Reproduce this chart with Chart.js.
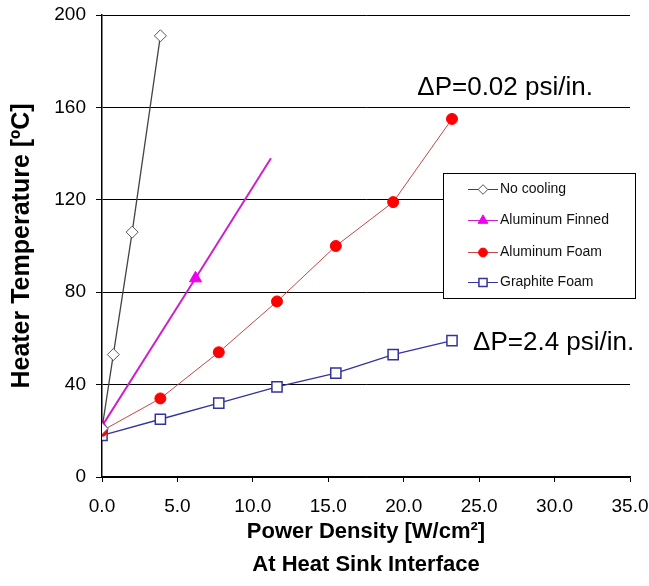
<!DOCTYPE html>
<html>
<head>
<meta charset="utf-8">
<script src="https://cdn.jsdelivr.net/npm/chart.js@4/dist/chart.umd.min.js"></script>
<style>
  body { margin: 0; background: #fff; }
  canvas { display: block; }
</style>
</head>
<body>
<canvas id="myChart" width="649" height="586"></canvas>
<script>
"use strict";

const chartCanvas = document.querySelector("#myChart");
const FONT = "'Liberation Sans', Arial, sans-serif";

// Datos
const seriesNames = ["No cooling", "Aluminum Finned", "Aluminum Foam", "Graphite Foam"];
const noCoolingX = [0, 0.75, 2.0, 3.87];
const noCoolingY = [21, 53, 106, 191];
const finnedX = [0, 6.2, 11.2];
const finnedY = [22, 86, 138];
const foamX = [0, 3.87, 7.74, 11.6, 15.5, 19.3, 23.2];
const foamY = [20, 34, 54, 76, 100, 119, 155];
const graphiteX = [0, 3.87, 7.74, 11.6, 15.5, 19.3, 23.2];
const graphiteY = [18, 25, 32, 39, 45, 53, 59];
const xTicks = [0, 5, 10, 15, 20, 25, 30, 35];
const yTicks = [0, 40, 80, 120, 160, 200];
const notes = [
  { text: "\u0394P=0.02 psi/in.", x: 20.9, y: 165.5 },
  { text: "\u0394P=2.4 psi/in.", x: 24.6, y: 55 },
];

const toPoints = (xs, ys) => xs.map((x, i) => ({ x: x, y: ys[i] }));

const data = {
  datasets: [
    {
      label: seriesNames[0],
      data: toPoints(noCoolingX, noCoolingY),
      borderColor: "#444444",
      borderWidth: 1.3,
      pointStyle: "rectRot",
      pointRadius: 6,
      pointBackgroundColor: "#ffffff",
      pointBorderColor: "#555555",
      pointBorderWidth: 1,
    },
    {
      label: seriesNames[1],
      data: toPoints(finnedX, finnedY),
      borderColor: "#cc22cc",
      borderWidth: 2,
      pointStyle: "triangle",
      pointRadius: [7, 7, 0],
      pointBackgroundColor: "#ee00ee",
      pointBorderColor: "#ee00ee",
      pointBorderWidth: 1,
    },
    {
      label: seriesNames[2],
      data: toPoints(foamX, foamY),
      borderColor: "#c04848",
      borderWidth: 1,
      pointStyle: "circle",
      pointRadius: 5.5,
      pointBackgroundColor: "#ff0000",
      pointBorderColor: "#ff0000",
      pointBorderWidth: 1,
    },
    {
      label: seriesNames[3],
      data: toPoints(graphiteX, graphiteY),
      borderColor: "#333399",
      borderWidth: 1.3,
      pointStyle: "rect",
      pointRadius: 7.2,
      pointBackgroundColor: "#ffffff",
      pointBorderColor: "#333399",
      pointBorderWidth: 1.5,
    },
  ],
};

// Leyenda y anotaciones dibujadas a mano
const extrasPlugin = {
  id: "extras",
  afterDraw(chart) {
    const ctx = chart.ctx;
    const xs = chart.scales.x;
    const ys = chart.scales.y;

    ctx.save();
    ctx.fillStyle = "#000";
    ctx.font = "26px " + FONT;
    ctx.textAlign = "left";
    ctx.textBaseline = "alphabetic";
    notes.forEach((n) => {
      ctx.fillText(n.text, xs.getPixelForValue(n.x), ys.getPixelForValue(n.y));
    });

    // caja de leyenda
    const bx = 443, by = 173, bw = 192, bh = 125;
    ctx.fillStyle = "#fff";
    ctx.fillRect(bx, by, bw, bh);
    ctx.strokeStyle = "#000";
    ctx.lineWidth = 1;
    ctx.strokeRect(bx + 0.5, by + 0.5, bw, bh);

    ctx.font = "14px " + FONT;
    ctx.textBaseline = "middle";
    const rows = [189, 220, 252, 282];
    chart.data.datasets.forEach((ds, i) => {
      const y = rows[i];
      ctx.strokeStyle = ds.borderColor;
      ctx.lineWidth = 1;
      ctx.beginPath();
      ctx.moveTo(468, y + 0.5);
      ctx.lineTo(498, y + 0.5);
      ctx.stroke();
      const r = Array.isArray(ds.pointRadius) ? ds.pointRadius[0] : ds.pointRadius;
      ctx.fillStyle = ds.pointBackgroundColor;
      ctx.strokeStyle = ds.pointBorderColor;
      ctx.lineWidth = ds.pointBorderWidth;
      Chart.helpers.drawPoint(ctx, { pointStyle: ds.pointStyle, radius: r * 0.8, rotation: 0, borderWidth: ds.pointBorderWidth }, 483, y + 0.5);
      ctx.fillStyle = "#111";
      ctx.fillText(ds.label, 500, y);
    });
    ctx.restore();
  },
};

const config = {
  type: "line",
  data,
  options: {
    responsive: false,
    animation: false,
    layout: { padding: { left: 0, top: 15, right: 19, bottom: 0 } },
    plugins: {
      legend: { display: false },
      tooltip: { enabled: false },
    },
    scales: {
      x: {
        type: "linear",
        min: 0,
        max: 35,
        afterFit: (scale) => {
          scale.height = 109;
          scale.paddingLeft = 0;
          scale.paddingRight = 0;
        },
        afterBuildTicks: (scale) => { scale.ticks = xTicks.map((v) => ({ value: v })); },
        ticks: {
          color: "#000",
          font: { family: FONT, size: 19 },
          padding: 13,
          maxRotation: 0,
          callback: (v) => v.toFixed(1),
        },
        grid: { drawOnChartArea: false, drawTicks: true, tickLength: 5, color: "#000" },
        border: { color: "#000", width: 1.5 },
        title: {
          display: true,
          text: ["Power Density [W/cm\u00b2]", "At Heat Sink Interface"],
          color: "#000",
          font: { family: FONT, size: 22, weight: "bold", lineHeight: 1.5 },
          padding: { top: 0, bottom: 5 },
        },
      },
      y: {
        min: 0,
        max: 200,
        afterFit: (scale) => {
          scale.width = 102;
          scale.paddingTop = 0;
          scale.paddingBottom = 0;
        },
        afterBuildTicks: (scale) => { scale.ticks = yTicks.map((v) => ({ value: v })); },
        ticks: {
          color: "#000",
          font: { family: FONT, size: 19 },
          padding: 10,
        },
        grid: { color: "#000", lineWidth: 1, tickLength: 6 },
        border: { color: "#000", width: 1.5 },
        title: {
          display: true,
          text: "Heater Temperature [\u00baC]",
          color: "#000",
          font: { family: FONT, size: 25, weight: "bold" },
          padding: { top: 7, bottom: 0 },
        },
      },
    },
  },
  plugins: [extrasPlugin],
};

const myChart = new Chart(chartCanvas, config);
</script>
</body>
</html>
